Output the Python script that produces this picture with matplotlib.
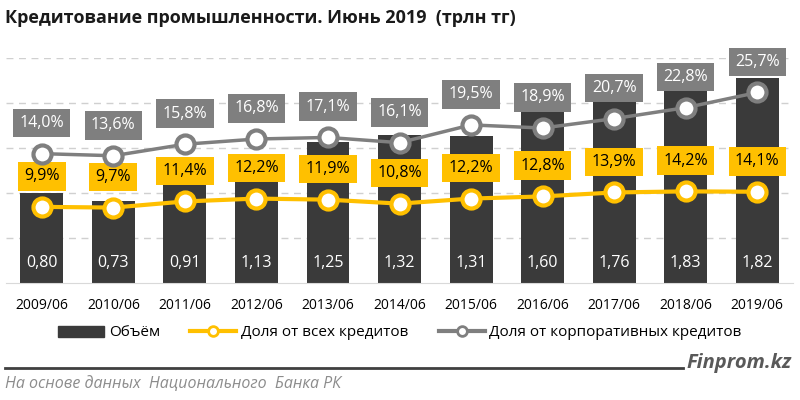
import matplotlib
matplotlib.use("Agg")
import matplotlib.pyplot as plt
from matplotlib.lines import Line2D
from matplotlib.patches import Patch

periods = ['2009/06', '2010/06', '2011/06', '2012/06', '2013/06', '2014/06',
           '2015/06', '2016/06', '2017/06', '2018/06', '2019/06']
volume = [0.80, 0.73, 0.91, 1.13, 1.25, 1.32, 1.31, 1.60, 1.76, 1.83, 1.82]
share_all = [9.9, 9.7, 11.4, 12.2, 11.9, 10.8, 12.2, 12.8, 13.9, 14.2, 14.1]
share_corp = [14.0, 13.6, 15.8, 16.8, 17.1, 16.1, 19.5, 18.9, 20.7, 22.8, 25.7]

BAR = '#3a3a3a'
YEL = '#ffc000'
GRY = '#7f7f7f'

def fmt(v, nd):
    return f"{v:.{nd}f}".replace('.', ',')

plt.rcParams['font.family'] = ['Open Sans', 'DejaVu Sans']

fig = plt.figure(figsize=(8, 4), dpi=100)
ax = fig.add_axes([0.0075, 0.2925, 0.9838, 0.5625])
# separate hidden scales for the two share lines
ax2 = ax.twinx()
ax3 = ax.twinx()
x = list(range(len(periods)))

ax.bar(x, volume, width=0.6, color=BAR, zorder=2)
ax.set_xlim(-0.5, len(periods) - 0.5)
ax.set_ylim(0, 2.0)
ax.set_yticks([])
for g in [0.4, 0.8, 1.2, 1.6, 2.0]:
    ax.axhline(g, linestyle=(0, (5, 4)), color='#d0d0d0', linewidth=1, zorder=0)
ax.tick_params(axis='x', bottom=False, labelsize=10, pad=7)
ax.set_xticks(x)
ax.set_xticklabels(periods)
for s in ['top', 'left', 'right']:
    ax.spines[s].set_visible(False)
ax.spines['bottom'].set_color('#d9d9d9')

for xi, v in zip(x, volume):
    ax.text(xi, 0.18, fmt(v, 2), ha='center', va='center', color='white',
            fontsize=11.5, zorder=5)

ax2.set_ylim(-11.25, 51.25)
ax2.axis('off')
ax3.set_ylim(-10.75, 32.3)
ax3.axis('off')

ax3.plot(x, share_corp, color=GRY, lw=2.5, marker='o', ms=13, mfc='white',
         mec=GRY, mew=3, zorder=3, clip_on=False)
ax2.plot(x, share_all, color=YEL, lw=3, marker='o', ms=13, mfc='white',
         mec=YEL, mew=3, zorder=3, clip_on=False)

for xi, v in zip(x, share_all):
    ax2.annotate(fmt(v, 1) + '%', (xi, v), xytext=(0, 22), textcoords='offset points',
                 ha='center', va='center', fontsize=11.5, color='black',
                 bbox=dict(boxstyle='square,pad=0.4', fc=YEL, ec='none'))
for xi, v in zip(x, share_corp):
    ax3.annotate(fmt(v, 1) + '%', (xi, v), xytext=(0, 22), textcoords='offset points',
                 ha='center', va='center', fontsize=11.5, color='white',
                 bbox=dict(boxstyle='square,pad=0.4', fc=GRY, ec='none'))

handles = [Patch(color=BAR),
           Line2D([], [], color=YEL, lw=3, marker='o', ms=7, mfc='white', mec=YEL, mew=2),
           Line2D([], [], color=GRY, lw=3, marker='o', ms=7, mfc='white', mec=GRY, mew=2)]
labels = ['Объём', 'Доля от всех кредитов', 'Доля от корпоративных кредитов']
fig.legend(handles, labels, loc='center', bbox_to_anchor=(0.5, 1 - 333 / 400), ncol=3,
           frameon=False, fontsize=11, handlelength=3, columnspacing=2, handletextpad=0.3)

fig.text(0.006, 1 - 18 / 400, 'Кредитование промышленности. Июнь 2019  (трлн тг)',
         fontsize=13, fontweight='bold', color='#1a1a1a', va='center')
fig.add_artist(Line2D([0.006, 0.854], [1 - 368 / 400] * 2, color='#404040', lw=2))
fig.text(0.99, 1 - 363 / 400, 'Finprom.kz', fontsize=14.5, fontstyle='italic',
         fontweight='bold', color='#595959', ha='right', va='center')
fig.text(0.006, 1 - 384 / 400, 'На основе данных  Национального  Банка РК', fontsize=11.5,
         fontstyle='italic', color='#8c8c8c', va='center')

fig.savefig('out.png', dpi=100)
